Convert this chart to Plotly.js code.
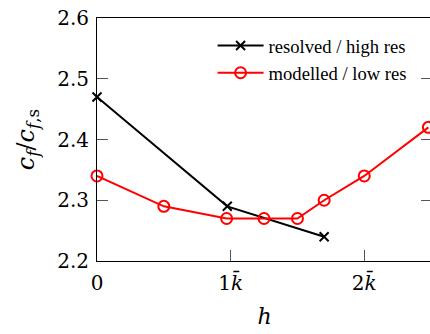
<!DOCTYPE html>
<html>
<head>
<meta charset="utf-8">
<script src="https://cdn.plot.ly/plotly-3.0.1.min.js"></script>
<style>
html,body{margin:0;padding:0;overflow:hidden;background:#fff;width:430px;height:334px;}
#chart{width:445px;height:334px;}
</style>
</head>
<body>
<div id="chart"></div>
<script>
// data (x in units of k-bar)
var resolvedX = [0, 0.975, 1.70];
var resolvedY = [2.47, 2.29, 2.24];
var modelledX = [0, 0.5, 0.97, 1.25, 1.5, 1.70, 2.0, 2.48];
var modelledY = [2.34, 2.29, 2.27, 2.27, 2.27, 2.30, 2.34, 2.42];
var xTickVals = [0, 1, 2];
var xTickText = ["0", "1<i>k\u0304</i>", "2<i>k\u0304</i>"];
var yTickVals = [2.2, 2.3, 2.4, 2.5, 2.6];
var yTickText = ["2.2", "2.3", "2.4", "2.5", "2.6"];
var names = ["resolved / high res", "modelled / low res"];

var traces = [
  {x: resolvedX, y: resolvedY, name: names[0], type: 'scatter', mode: 'lines+markers',
   line: {color: '#000000', width: 2},
   marker: {symbol: 'x-thin-open', size: 9, color: '#000000', line: {color: '#000000', width: 2}},
   cliponaxis: false},
  {x: modelledX, y: modelledY, name: names[1], type: 'scatter', mode: 'lines+markers',
   line: {color: '#ff0000', width: 2},
   marker: {symbol: 'circle-open', size: 11, color: '#ff0000', line: {color: '#ff0000', width: 2}},
   cliponaxis: false}
];

var serifMath = 'DejaVu Serif';
var tickFont = {family: serifMath, size: 20, color: '#000'};
var layout = {
  width: 445, height: 334,
  margin: {l: 97, r: 13, t: 18, b: 73},
  paper_bgcolor: '#fff', plot_bgcolor: '#fff',
  showlegend: true,
  legend: {x: 0.345, y: 0.963, xanchor: 'left', yanchor: 'top', bgcolor: 'rgba(0,0,0,0)',
           itemwidth: 46,
           font: {family: 'Liberation Serif', size: 18.6, color: '#000'}, tracegroupgap: 6},
  xaxis: {range: [0, 2.507], tickvals: xTickVals, ticktext: xTickText,
          ticks: 'inside', ticklen: 11, tickwidth: 1, tickcolor: '#555',
          showline: true, linecolor: '#000', linewidth: 1, mirror: true,
          showgrid: false, zeroline: false, tickfont: tickFont, ticklabelstandoff: 4,
          title: {text: '<i>h</i>', font: {family: serifMath, size: 22, color: '#000'}, standoff: 14}},
  yaxis: {range: [2.2, 2.6], tickvals: yTickVals, ticktext: yTickText,
          ticks: 'inside', ticklen: 11, tickwidth: 1, tickcolor: '#555',
          showline: true, linecolor: '#000', linewidth: 1, mirror: 'ticks',
          showgrid: false, zeroline: false, tickfont: tickFont, ticklabelstandoff: 3,
          title: {text: '<i>c<sub>f</sub></i>/<i>c<sub>f</sub></i><sub>,s</sub>', font: {family: serifMath, size: 24, color: '#000'}, standoff: 15}}
};

Plotly.newPlot('chart', traces, layout, {displayModeBar: false, staticPlot: true});
</script>
</body>
</html>
